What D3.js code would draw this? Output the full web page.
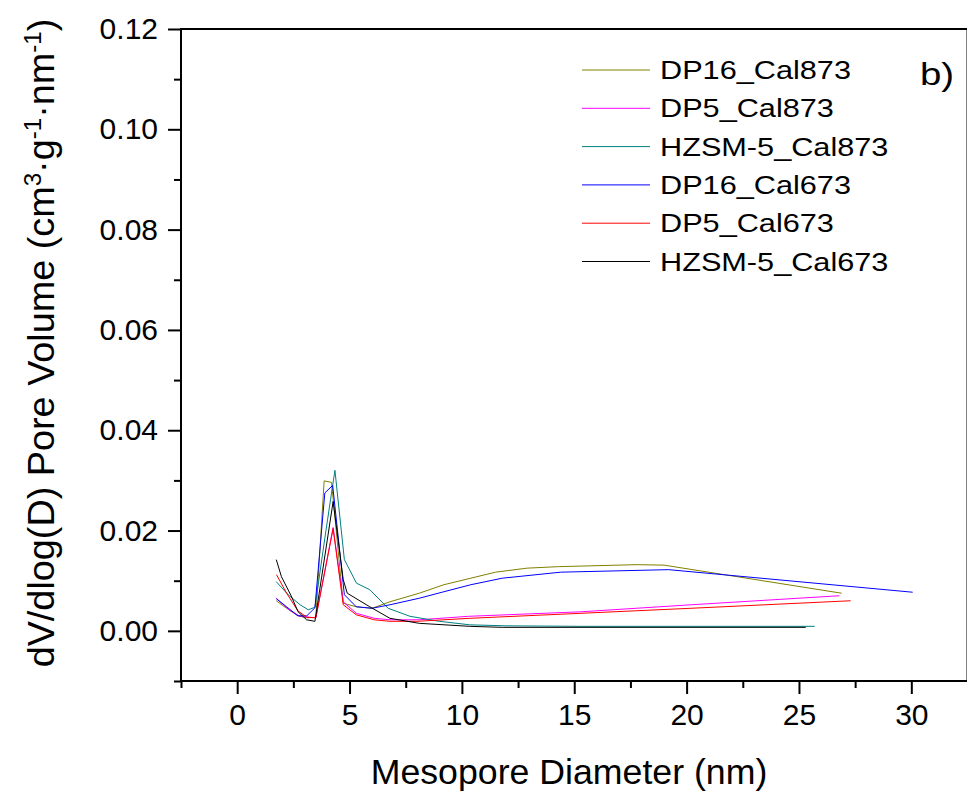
<!DOCTYPE html>
<html>
<head>
<meta charset="utf-8">
<script src="https://cdn.jsdelivr.net/npm/d3@7"></script>
<style>
  body { margin: 0; background: #fff; }
  svg { display: block; font-family: Arial, "Liberation Sans", sans-serif; }
</style>
</head>
<body>
<svg id="chart" width="967" height="795"></svg>
<script>
// BJH pore size distributions, [diameter nm, dV/dlog(D)]
const dp16Cal873 = [
  [1.74, 0.0060], [2.2, 0.0045], [2.7, 0.0030], [3.1, 0.0026], [3.5, 0.0027],
  [3.87, 0.0299], [4.2, 0.0296], [4.72, 0.0055], [5.3, 0.0048], [6.0, 0.0045],
  [6.8, 0.0058], [8.1, 0.0075], [9.2, 0.0092], [10.4, 0.0105], [11.5, 0.0117],
  [12.9, 0.0125], [14.3, 0.0128], [17.8, 0.0132], [19.0, 0.0131], [26.9, 0.0075]
];
const dp5Cal873 = [
  [1.74, 0.0065], [2.3, 0.0042], [2.8, 0.0029], [3.5, 0.0026], [4.27, 0.0206],
  [4.72, 0.0058], [5.3, 0.0035], [6.1, 0.0025], [6.8, 0.0022], [8.1, 0.0022],
  [10.3, 0.0029], [15.3, 0.0038], [20.2, 0.0052], [26.8, 0.0070]
];
const hzsm5Cal873 = [
  [1.74, 0.0098], [2.27, 0.0072], [2.8, 0.0052], [3.16, 0.0042], [3.46, 0.0047],
  [3.95, 0.0200], [4.35, 0.0320], [4.77, 0.0142], [5.31, 0.0095], [5.9, 0.0082],
  [6.72, 0.0045], [7.69, 0.0029], [9.0, 0.0019], [10.35, 0.0012], [12.0, 0.0010],
  [15.3, 0.0009], [25.7, 0.0009]
];
const dp16Cal673 = [
  [1.74, 0.0064], [2.2, 0.0048], [2.7, 0.0030], [3.1, 0.0030], [3.46, 0.0046],
  [3.9, 0.0275], [4.25, 0.0290], [4.77, 0.0072], [5.3, 0.0048], [6.0, 0.0045],
  [6.8, 0.0052], [8.1, 0.0065], [9.2, 0.0078], [10.4, 0.0092], [11.8, 0.0105],
  [14.4, 0.0117], [19.2, 0.0122], [30.06, 0.0077]
];
const dp5Cal673 = [
  [1.75, 0.0112], [2.2, 0.0075], [2.7, 0.0040], [3.1, 0.0027], [3.5, 0.0026],
  [4.27, 0.0204], [4.72, 0.0052], [5.3, 0.0032], [6.1, 0.0022], [6.8, 0.0019],
  [8.0, 0.0019], [10.35, 0.0025], [15.3, 0.0035], [20.2, 0.0045], [27.3, 0.0060]
];
const hzsm5Cal673 = [
  [1.74, 0.0142], [1.97, 0.0108], [2.4, 0.0070], [2.71, 0.0038], [3.09, 0.0022],
  [3.46, 0.0019], [4.27, 0.0258], [4.72, 0.0102], [4.9, 0.0075], [5.9, 0.0048],
  [6.8, 0.0025], [8.1, 0.0015], [10.35, 0.0009], [11.8, 0.0007], [25.3, 0.0007]
];

const seriesNames = ['DP16_Cal873', 'DP5_Cal873', 'HZSM-5_Cal873', 'DP16_Cal673', 'DP5_Cal673', 'HZSM-5_Cal673'];
const seriesData = [dp16Cal873, dp5Cal873, hzsm5Cal873, dp16Cal673, dp5Cal673, hzsm5Cal673];
const seriesColors = ['#808000', '#ff00ff', '#008080', '#0000ff', '#ff0000', '#000000'];

const xMajorTicks = [0, 5, 10, 15, 20, 25, 30];
const yMajorTicks = [0, 0.02, 0.04, 0.06, 0.08, 0.10, 0.12];

const svg = d3.select('#chart');
const plot = { left: 181, top: 29, right: 967.5, bottom: 681 };

const x = d3.scaleLinear().domain([-2.5, 32.5]).range([plot.left, plot.right]);
const y = d3.scaleLinear().domain([-0.01, 0.12]).range([plot.bottom, plot.top]);

// minor ticks sit halfway between major ones
const xMinor = d3.range(-2.5, 33, 5);
const yMinor = d3.range(-0.01, 0.125, 0.02);

svg.append('g')
  .attr('transform', `translate(0,${plot.bottom})`)
  .call(d3.axisBottom(x).tickValues(xMajorTicks).tickSize(13).tickPadding(10).tickFormat(d3.format('d')));
svg.append('g')
  .attr('transform', `translate(0,${plot.bottom})`)
  .call(d3.axisBottom(x).tickValues(xMinor).tickSize(7).tickFormat(''));

svg.append('g')
  .attr('transform', `translate(${plot.left},0)`)
  .call(d3.axisLeft(y).tickValues(yMajorTicks).tickSize(13).tickPadding(10).tickFormat(d3.format('.2f')));
svg.append('g')
  .attr('transform', `translate(${plot.left},0)`)
  .call(d3.axisLeft(y).tickValues(yMinor).tickSize(7).tickFormat(''));

svg.selectAll('.domain').remove();
svg.selectAll('.tick line').attr('stroke', '#000').attr('stroke-width', 2);
svg.selectAll('.tick text').attr('fill', '#000').style('font-size', '30px');

// frame
svg.append('rect')
  .attr('x', plot.left)
  .attr('y', plot.top)
  .attr('width', plot.right - plot.left)
  .attr('height', plot.bottom - plot.top)
  .attr('fill', 'none')
  .attr('stroke', '#000')
  .attr('stroke-width', 2);

const line = d3.line().x(d => x(d[0])).y(d => y(d[1]));

svg.append('g')
  .selectAll('path')
  .data(seriesData)
  .enter()
  .append('path')
  .attr('d', line)
  .attr('fill', 'none')
  .attr('stroke', (d, i) => seriesColors[i])
  .attr('stroke-width', 1);

// legend
const legend = svg.append('g').attr('transform', 'translate(582,70)');
const rows = legend.selectAll('g')
  .data(seriesNames)
  .enter()
  .append('g')
  .attr('transform', (d, i) => `translate(0,${i * 38.3})`);
rows.append('line')
  .attr('x1', 0)
  .attr('x2', 68)
  .attr('stroke', (d, i) => seriesColors[i])
  .attr('stroke-width', 1);
rows.append('text')
  .attr('transform', 'translate(78,9) scale(1.18,1)')
  .style('font-size', '26px')
  .text(d => d);

svg.append('text')
  .attr('transform', 'translate(920,85) scale(1.2,1)')
  .style('font-size', '32px')
  .text('b)');

// axis titles
svg.append('text')
  .attr('x', 569)
  .attr('y', 784)
  .attr('text-anchor', 'middle')
  .style('font-size', '35.7px')
  .text('Mesopore Diameter (nm)');

const yTitle = svg.append('text')
  .attr('transform', 'translate(54,343) rotate(-90) scale(1.05,1)')
  .attr('text-anchor', 'middle')
  .style('font-size', '36px');
yTitle.append('tspan').text('dV/dlog(D) Pore Volume (cm');
yTitle.append('tspan').attr('dy', -13).style('font-size', '23px').text('3');
yTitle.append('tspan').attr('dy', 13).text('·g');
yTitle.append('tspan').attr('dy', -13).style('font-size', '23px').text('-1');
yTitle.append('tspan').attr('dy', 13).text('·nm');
yTitle.append('tspan').attr('dy', -13).style('font-size', '23px').text('-1');
yTitle.append('tspan').attr('dy', 13).text(')');
</script>
</body>
</html>
